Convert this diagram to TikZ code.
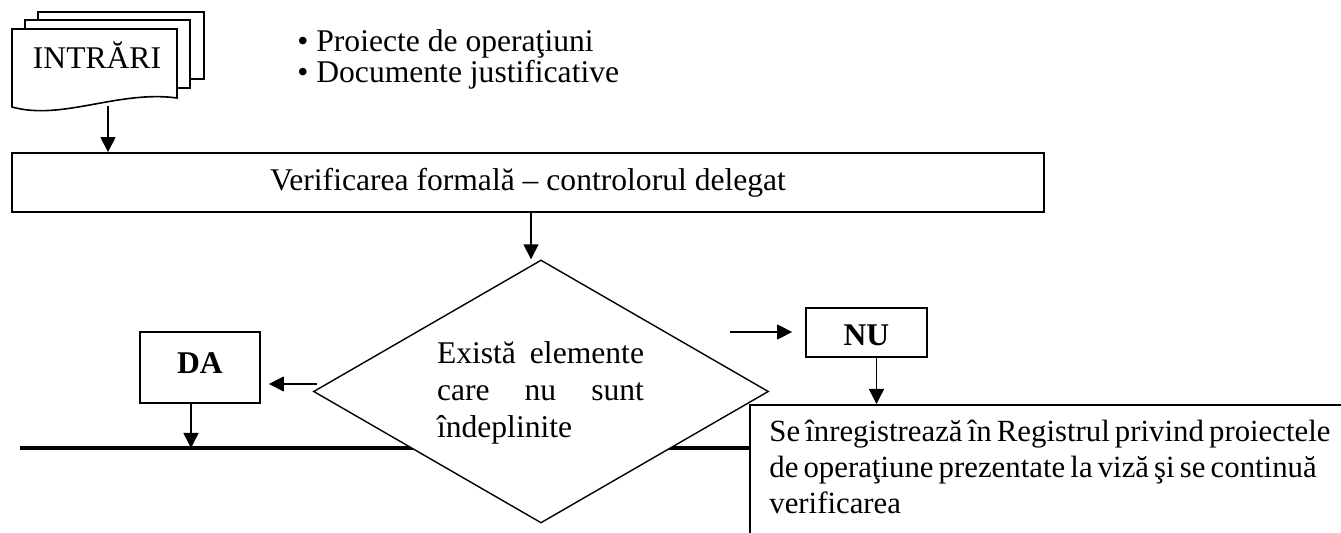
\documentclass[tikz,border=0pt]{standalone}
\usepackage{fontspec}
\setmainfont{Liberation Serif}
\usetikzlibrary{arrows.meta,shapes.geometric}
\begin{document}
\begin{tikzpicture}[x=0.5pt,y=-0.5pt,
  txt/.style={font=\fontsize{15.8}{17.6}\selectfont,inner sep=0pt},
  boxst/.style={draw,line width=0.9pt,fill=white,inner sep=0pt,font=\fontsize{15.8}{17.6}\selectfont},
  arr/.style={-{Triangle[length=7.5pt,width=7.5pt]},line width=0.75pt},
  sheet/.style={draw,line width=0.8pt,fill=white}]
\useasboundingbox (0,0) rectangle (1341,533);

% stacked documents
\draw[sheet] (38,12) rectangle (204,79);
\draw[sheet] (25,20) rectangle (190,88);
\draw[sheet] (12,29) -- (177,29) -- (177,98) .. controls (118,90) and (62,121) .. (12,107) -- cycle;
\node[txt] (doc) at (97,55) {INTRĂRI};
\coordinate (docb) at (108,106);

% bullet list
\node[txt,anchor=base west] (bul1) at (297,52) {• Proiecte de operaţiuni};
\node[txt,anchor=base west] (bul2) at (297,83) {• Documente justificative};

% main box
\node[boxst,minimum width=516pt,minimum height=29.5pt] (box1) at (528,182.5) {Verificarea formală – controlorul delegat};
\draw[arr] (docb) -- (docb |- box1.north);

% bus line
\coordinate (busL) at (20,448);
\coordinate (busR) at (749,448);
\draw[line width=2pt] (busL) -- (busR);

% decision
\node[diamond,draw,line width=0.7pt,fill=white,minimum width=227.5pt,minimum height=131.5pt,inner sep=0pt] (dia) at (541,391.5) {};
\node[txt,align=left,font=\fontsize{15.8}{18.5}\selectfont] (diat) at (540.5,393) {\makebox[103.5pt][s]{Există elemente}\\\makebox[103.5pt][s]{care nu sunt}\\îndeplinite};
\coordinate (dtop) at ([xshift=-5pt]dia.north);
\draw[arr] (box1.south -| dtop) -- (dtop);

% DA branch
\node[boxst,minimum width=60pt,minimum height=35.5pt,text height=10.3pt,text depth=4.5pt,font=\fontsize{15.8}{17.6}\selectfont\bfseries] (da) at (200,367.5) {DA};
\coordinate (dl) at (317,384);
\draw[arr] (dl) -- ([xshift=4pt]dl -| da.east);
\coordinate (dab) at ([xshift=-4.5pt]da.south);
\draw[arr] (dab) -- (dab |- busL);

% NU branch
\node[boxst,minimum width=60.5pt,minimum height=24.5pt,text height=12.6pt,text depth=0pt,font=\fontsize{15.8}{17.6}\selectfont\bfseries] (nu) at (866.5,332.5) {NU};
\coordinate (nl) at (730,332);
\draw[arr] (nl) -- ([xshift=-6.5pt]nl -| nu.west);

% register box
\begin{scope}
\clip (0,0) rectangle (1341,533);
\node[draw,line width=0.8pt,fill=white,anchor=north west,minimum width=320pt,minimum height=80pt,inner sep=0pt] (reg) at (749,404) {};
\end{scope}
\coordinate (nub) at ([xshift=5pt]nu.south);
\draw[arr] (nub) -- (nub |- reg.north);
\node[txt,align=left,anchor=north west,font=\fontsize{15.4}{17.8}\selectfont] (regt) at (769,420) {\makebox[273.5pt][s]{Se înregistrează în Registrul privind proiectele}\\\makebox[273.5pt][s]{de operaţiune prezentate la viză şi se continuă}\\verificarea};
\end{tikzpicture}
\end{document}
